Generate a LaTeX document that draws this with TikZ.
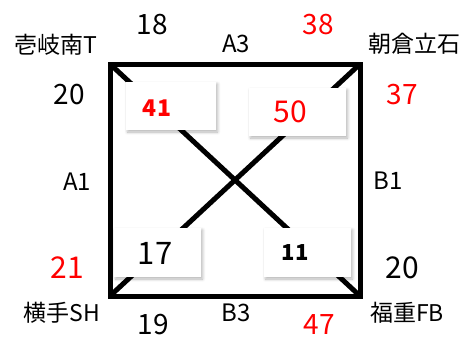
\documentclass[tikz,border=0pt]{standalone}
\usepackage{fontspec}
\setmainfont{Noto Sans CJK JP}
\usetikzlibrary{shadows.blur}
\begin{document}
\begin{tikzpicture}[x=1pt,y=-1pt,
  lbl/.style={inner sep=0pt,font=\fontsize{24}{26}\selectfont},
  cjk/.style={inner sep=0pt,font=\fontsize{23}{25}\selectfont},
  num/.style={inner sep=0pt,font=\fontsize{28}{30}\selectfont},
  rednum/.style={num,text=red},
  card/.style={draw=none,fill=white,inner sep=0pt,
    blur shadow={shadow xshift=1.5pt,shadow yshift=-2pt,shadow blur radius=3pt,shadow opacity=30,shadow blur steps=6}},
  frame/.style={line width=5pt,line join=miter}]
\useasboundingbox (0,0) rectangle (470,338);
\coordinate (tl) at (110,64);
\coordinate (tr) at (360,64);
\coordinate (bl) at (110,296);
\coordinate (br) at (360,296);
\draw[frame] (tl) rectangle (br);
\draw[frame] (tl) -- (br);
\draw[frame] (tr) -- (bl);
% cards
\node[card,minimum width=90pt,minimum height=48pt] (c41) at (171,106) {};
\node[card,minimum width=97pt,minimum height=48pt] (c50) at (297.5,112) {};
\node[card,minimum width=87pt,minimum height=49pt] (c17) at (157.5,252.5) {};
\node[card,minimum width=87pt,minimum height=49pt] (c11) at (307.5,252.5) {};
\node[inner sep=0pt,text=red,font=\fontsize{23}{25}\selectfont\bfseries] (t41) at (157,108) {41};
\node[inner sep=0pt,text=red,font=\fontsize{30}{32}\selectfont] (t50) at (290,112) {50};
\node[inner sep=0pt,font=\fontsize{31}{33}\selectfont] (t17) at (155,253) {17};
\node[inner sep=0pt,font=\fontsize{22}{24}\selectfont\bfseries] (t11) at (295,253) {11};
% corner labels
\node[cjk] (n1) at (56,45) {壱岐南T};
\node[cjk] (n2) at (414,44) {朝倉立石};
\node[cjk] (n3) at (62,313) {横手SH};
\node[cjk] (n4) at (407,313) {福重FB};
% side labels
\node[lbl] (a3) at (236,44) {A3};
\node[lbl] (a1) at (77,182) {A1};
\node[lbl] (b1) at (388,181) {B1};
\node[lbl] (b3) at (236,313) {B3};
% numbers
\node[num] (x18) at (152,25) {18};
\node[rednum] (x38) at (318,25) {38};
\node[num] (x20a) at (69,95) {20};
\node[rednum] (x37) at (402,95) {37};
\node[rednum,font=\fontsize{30}{32}\selectfont] (x21) at (67,268) {21};
\node[num,font=\fontsize{30}{32}\selectfont] (x20b) at (402,268) {20};
\node[num] (x19) at (153,325) {19};
\node[rednum] (x47) at (319,325) {47};
\end{tikzpicture}
\end{document}
